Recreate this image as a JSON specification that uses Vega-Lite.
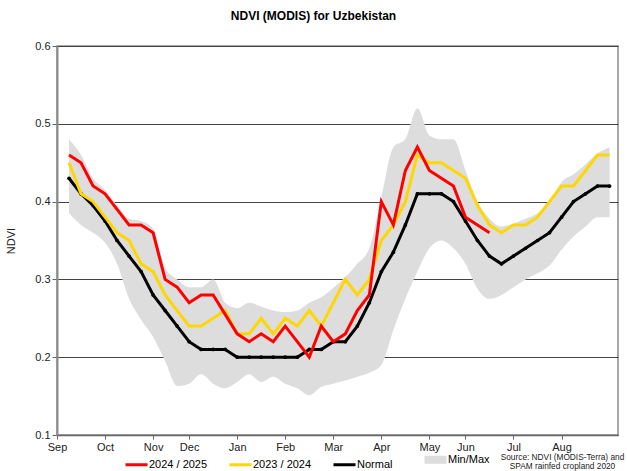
{
  "$schema": "https://vega.github.io/schema/vega-lite/v6.json",
  "width": 561,
  "height": 389,
  "autosize": "none",
  "padding": {"left": 57, "top": 46, "right": 9, "bottom": 36},
  "background": "white",
  "config": {
    "font": "Liberation Sans",
    "view": {"stroke": "#8c8c8c", "strokeWidth": 1.5},
    "axis": {"labelFont": "Liberation Sans", "titleFont": "Liberation Sans", "labelColor": "#222", "titleColor": "#222"}
  },
  "title": {
    "text": "NDVI (MODIS) for Uzbekistan",
    "fontSize": 12,
    "fontWeight": "bold",
    "color": "#000",
    "anchor": "middle",
    "dx": -24,
    "offset": 17
  },
  "datasets": {
    "series": [
      {"p":1,"s":"2024 / 2025","v":0.46},{"p":2,"s":"2024 / 2025","v":0.45},{"p":3,"s":"2024 / 2025","v":0.42},{"p":4,"s":"2024 / 2025","v":0.41},{"p":5,"s":"2024 / 2025","v":0.39},{"p":6,"s":"2024 / 2025","v":0.37},{"p":7,"s":"2024 / 2025","v":0.37},{"p":8,"s":"2024 / 2025","v":0.36},{"p":9,"s":"2024 / 2025","v":0.30},{"p":10,"s":"2024 / 2025","v":0.29},
      {"p":11,"s":"2024 / 2025","v":0.27},{"p":12,"s":"2024 / 2025","v":0.28},{"p":13,"s":"2024 / 2025","v":0.28},{"p":14,"s":"2024 / 2025","v":0.255},{"p":15,"s":"2024 / 2025","v":0.23},{"p":16,"s":"2024 / 2025","v":0.22},{"p":17,"s":"2024 / 2025","v":0.23},{"p":18,"s":"2024 / 2025","v":0.22},{"p":19,"s":"2024 / 2025","v":0.24},{"p":20,"s":"2024 / 2025","v":0.22},
      {"p":21,"s":"2024 / 2025","v":0.20},{"p":22,"s":"2024 / 2025","v":0.24},{"p":23,"s":"2024 / 2025","v":0.22},{"p":24,"s":"2024 / 2025","v":0.23},{"p":25,"s":"2024 / 2025","v":0.26},{"p":26,"s":"2024 / 2025","v":0.28},{"p":27,"s":"2024 / 2025","v":0.40},{"p":28,"s":"2024 / 2025","v":0.37},{"p":29,"s":"2024 / 2025","v":0.44},{"p":30,"s":"2024 / 2025","v":0.47},
      {"p":31,"s":"2024 / 2025","v":0.44},{"p":32,"s":"2024 / 2025","v":0.43},{"p":33,"s":"2024 / 2025","v":0.42},{"p":34,"s":"2024 / 2025","v":0.38},{"p":35,"s":"2024 / 2025","v":0.37},{"p":36,"s":"2024 / 2025","v":0.36},
      {"p":1,"s":"2023 / 2024","v":0.45},{"p":2,"s":"2023 / 2024","v":0.41},{"p":3,"s":"2023 / 2024","v":0.40},{"p":4,"s":"2023 / 2024","v":0.38},{"p":5,"s":"2023 / 2024","v":0.36},{"p":6,"s":"2023 / 2024","v":0.35},{"p":7,"s":"2023 / 2024","v":0.32},{"p":8,"s":"2023 / 2024","v":0.31},{"p":9,"s":"2023 / 2024","v":0.28},{"p":10,"s":"2023 / 2024","v":0.26},
      {"p":11,"s":"2023 / 2024","v":0.24},{"p":12,"s":"2023 / 2024","v":0.24},{"p":13,"s":"2023 / 2024","v":0.25},{"p":14,"s":"2023 / 2024","v":0.26},{"p":15,"s":"2023 / 2024","v":0.23},{"p":16,"s":"2023 / 2024","v":0.23},{"p":17,"s":"2023 / 2024","v":0.25},{"p":18,"s":"2023 / 2024","v":0.23},{"p":19,"s":"2023 / 2024","v":0.25},{"p":20,"s":"2023 / 2024","v":0.24},
      {"p":21,"s":"2023 / 2024","v":0.26},{"p":22,"s":"2023 / 2024","v":0.24},{"p":23,"s":"2023 / 2024","v":0.27},{"p":24,"s":"2023 / 2024","v":0.30},{"p":25,"s":"2023 / 2024","v":0.28},{"p":26,"s":"2023 / 2024","v":0.30},{"p":27,"s":"2023 / 2024","v":0.35},{"p":28,"s":"2023 / 2024","v":0.37},{"p":29,"s":"2023 / 2024","v":0.40},{"p":30,"s":"2023 / 2024","v":0.46},
      {"p":31,"s":"2023 / 2024","v":0.45},{"p":32,"s":"2023 / 2024","v":0.45},{"p":33,"s":"2023 / 2024","v":0.44},{"p":34,"s":"2023 / 2024","v":0.43},{"p":35,"s":"2023 / 2024","v":0.395},{"p":36,"s":"2023 / 2024","v":0.37},{"p":37,"s":"2023 / 2024","v":0.36},{"p":38,"s":"2023 / 2024","v":0.37},{"p":39,"s":"2023 / 2024","v":0.37},{"p":40,"s":"2023 / 2024","v":0.38},
      {"p":41,"s":"2023 / 2024","v":0.40},{"p":42,"s":"2023 / 2024","v":0.42},{"p":43,"s":"2023 / 2024","v":0.42},{"p":44,"s":"2023 / 2024","v":0.44},{"p":45,"s":"2023 / 2024","v":0.46},{"p":46,"s":"2023 / 2024","v":0.46},
      {"p":1,"s":"Normal","v":0.43},{"p":2,"s":"Normal","v":0.41},{"p":3,"s":"Normal","v":0.395},{"p":4,"s":"Normal","v":0.375},{"p":5,"s":"Normal","v":0.35},{"p":6,"s":"Normal","v":0.33},{"p":7,"s":"Normal","v":0.31},{"p":8,"s":"Normal","v":0.28},{"p":9,"s":"Normal","v":0.26},{"p":10,"s":"Normal","v":0.24},
      {"p":11,"s":"Normal","v":0.22},{"p":12,"s":"Normal","v":0.21},{"p":13,"s":"Normal","v":0.21},{"p":14,"s":"Normal","v":0.21},{"p":15,"s":"Normal","v":0.20},{"p":16,"s":"Normal","v":0.20},{"p":17,"s":"Normal","v":0.20},{"p":18,"s":"Normal","v":0.20},{"p":19,"s":"Normal","v":0.20},{"p":20,"s":"Normal","v":0.20},
      {"p":21,"s":"Normal","v":0.21},{"p":22,"s":"Normal","v":0.21},{"p":23,"s":"Normal","v":0.22},{"p":24,"s":"Normal","v":0.22},{"p":25,"s":"Normal","v":0.24},{"p":26,"s":"Normal","v":0.27},{"p":27,"s":"Normal","v":0.31},{"p":28,"s":"Normal","v":0.335},{"p":29,"s":"Normal","v":0.37},{"p":30,"s":"Normal","v":0.41},
      {"p":31,"s":"Normal","v":0.41},{"p":32,"s":"Normal","v":0.41},{"p":33,"s":"Normal","v":0.40},{"p":34,"s":"Normal","v":0.375},{"p":35,"s":"Normal","v":0.35},{"p":36,"s":"Normal","v":0.33},{"p":37,"s":"Normal","v":0.32},{"p":38,"s":"Normal","v":0.33},{"p":39,"s":"Normal","v":0.34},{"p":40,"s":"Normal","v":0.35},
      {"p":41,"s":"Normal","v":0.36},{"p":42,"s":"Normal","v":0.38},{"p":43,"s":"Normal","v":0.40},{"p":44,"s":"Normal","v":0.41},{"p":45,"s":"Normal","v":0.42},{"p":46,"s":"Normal","v":0.42}
    ],
    "band": [
      {"p":1,"lo":0.385,"hi":0.48},{"p":2,"lo":0.37,"hi":0.46},{"p":3,"lo":0.36,"hi":0.43},{"p":4,"lo":0.347,"hi":0.415},{"p":5,"lo":0.32,"hi":0.395},{"p":6,"lo":0.275,"hi":0.378},{"p":7,"lo":0.248,"hi":0.375},{"p":8,"lo":0.226,"hi":0.365},{"p":9,"lo":0.195,"hi":0.315},{"p":10,"lo":0.163,"hi":0.30},
      {"p":11,"lo":0.166,"hi":0.29},{"p":12,"lo":0.178,"hi":0.29},{"p":13,"lo":0.166,"hi":0.30},{"p":14,"lo":0.16,"hi":0.27},{"p":15,"lo":0.168,"hi":0.263},{"p":16,"lo":0.178,"hi":0.27},{"p":17,"lo":0.168,"hi":0.265},{"p":18,"lo":0.175,"hi":0.26},{"p":19,"lo":0.166,"hi":0.258},{"p":20,"lo":0.16,"hi":0.26},
      {"p":21,"lo":0.151,"hi":0.27},{"p":22,"lo":0.162,"hi":0.277},{"p":23,"lo":0.166,"hi":0.289},{"p":24,"lo":0.17,"hi":0.303},{"p":25,"lo":0.175,"hi":0.32},{"p":26,"lo":0.18,"hi":0.34},{"p":27,"lo":0.19,"hi":0.405},{"p":28,"lo":0.235,"hi":0.47},{"p":29,"lo":0.275,"hi":0.48},{"p":30,"lo":0.31,"hi":0.52},
      {"p":31,"lo":0.34,"hi":0.485},{"p":32,"lo":0.35,"hi":0.48},{"p":33,"lo":0.34,"hi":0.48},{"p":34,"lo":0.32,"hi":0.44},{"p":35,"lo":0.288,"hi":0.40},{"p":36,"lo":0.275,"hi":0.378},{"p":37,"lo":0.28,"hi":0.368},{"p":38,"lo":0.29,"hi":0.372},{"p":39,"lo":0.30,"hi":0.378},{"p":40,"lo":0.308,"hi":0.385},
      {"p":41,"lo":0.318,"hi":0.40},{"p":42,"lo":0.338,"hi":0.425},{"p":43,"lo":0.355,"hi":0.435},{"p":44,"lo":0.368,"hi":0.448},{"p":45,"lo":0.38,"hi":0.462},{"p":46,"lo":0.38,"hi":0.47}
    ]
  },
  "encoding": {
    "x": {
      "field": "p",
      "type": "quantitative",
      "scale": {"domain": [0, 46.7], "nice": false, "zero": false},
      "axis": {
        "values": [0, 4, 8, 11, 15, 19, 23, 27, 31, 34, 38, 42],
        "labelExpr": "['Sep','Oct','Nov','Dec','Jan','Feb','Mar','Apr','May','Jun','Jul','Aug'][indexof([0,4,8,11,15,19,23,27,31,34,38,42], datum.value)]",
        "grid": false,
        "domainColor": "#666",
        "domainWidth": 1.5,
        "tickColor": "#666",
        "tickSize": 4,
        "labelFontSize": 11,
        "labelPadding": 2,
        "labelFlush": false,
        "title": ["Source: NDVI (MODIS-Terra) and", "SPAM rainfed cropland 2020"],
        "titleFontSize": 8.3,
        "titleFontWeight": "normal",
        "titleAlign": "center",
        "titleAnchor": "end",
        "titleBaseline": "top",
        "titleX": 505,
        "titleY": 17,
        "titleLineHeight": 9.5
      }
    }
  },
  "layer": [
    {
      "data": {"name": "band"},
      "mark": {"type": "area", "interpolate": "monotone", "opacity": 1},
      "encoding": {
        "y": {"field": "lo", "type": "quantitative"},
        "y2": {"field": "hi"},
        "color": {"datum": "Min/Max"}
      }
    },
    {
      "data": {"name": "series"},
      "transform": [{"filter": "datum.s === 'Normal'"}],
      "mark": {"type": "line", "strokeWidth": 3, "point": {"filled": true, "size": 14}},
      "encoding": {
        "y": {"field": "v", "type": "quantitative"},
        "color": {"field": "s"}
      }
    },
    {
      "data": {"name": "series"},
      "transform": [{"filter": "datum.s === '2023 / 2024'"}],
      "mark": {"type": "line", "strokeWidth": 3},
      "encoding": {
        "y": {"field": "v", "type": "quantitative"},
        "color": {"field": "s"}
      }
    },
    {
      "data": {"name": "series"},
      "transform": [{"filter": "datum.s === '2024 / 2025'"}],
      "mark": {"type": "line", "strokeWidth": 3},
      "encoding": {
        "y": {
          "field": "v",
          "type": "quantitative",
          "scale": {"domain": [0.1, 0.6], "nice": false, "zero": false},
          "axis": {
            "title": "NDVI",
            "values": [0.1, 0.2, 0.3, 0.4, 0.5, 0.6],
            "format": ".1f",
            "grid": true,
            "gridColor": "#444",
            "gridWidth": 1,
            "domainColor": "#8c8c8c",
            "domainWidth": 2,
            "tickColor": "#666",
            "tickSize": 5,
            "labelFontSize": 11,
            "labelPadding": 2,
            "titleFontSize": 11,
            "titleFontWeight": "normal",
            "titlePadding": 18
          }
        },
        "color": {
          "field": "s",
          "type": "nominal",
          "scale": {
            "domain": ["2024 / 2025", "2023 / 2024", "Normal", "Min/Max"],
            "range": ["#ff0000", "#ffd700", "#000000", "#dddddd"]
          },
          "legend": {
            "title": null,
            "orient": "none",
            "direction": "horizontal",
            "legendX": 74,
            "legendY": 408,
            "padding": 0,
            "symbolType": "stroke",
            "symbolSize": 484,
            "symbolStrokeWidth": 8,
            "labelFontSize": 11,
            "labelColor": "#000",
            "labelOffset": 7,
            "columnPadding": 15,
            "encode": {
              "symbols": {
                "update": {
                  "strokeWidth": {"signal": "datum.value === 'Min/Max' ? 8 : 3"}
                }
              }
            }
          }
        }
      }
    }
  ]
}
